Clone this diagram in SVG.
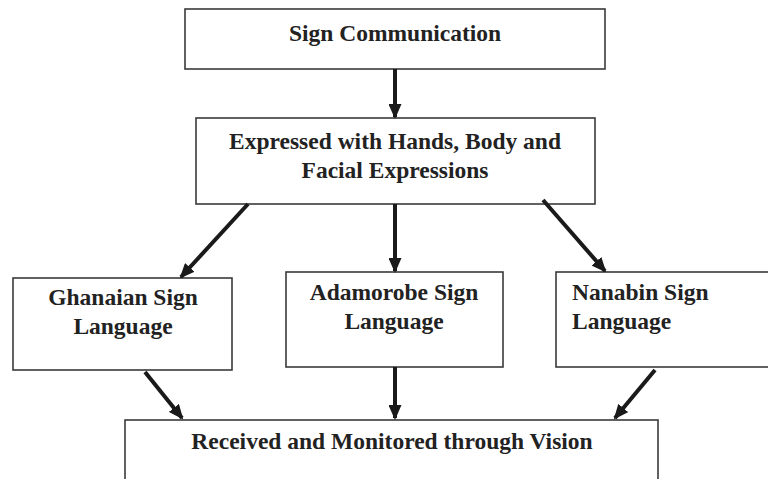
<svg xmlns="http://www.w3.org/2000/svg" width="768" height="479" viewBox="0 0 768 479">
<style>
.box{fill:#fff;stroke:#3a3a3a;stroke-width:1.6}
.t{font-family:"Liberation Serif","Times New Roman",serif;font-weight:bold;font-size:23.5px;fill:#222}
.c{text-anchor:middle}
.a{stroke:#1a1a1a;stroke-width:4;fill:none;marker-end:url(#ah)}
</style>
<defs>
<marker id="ah" viewBox="0 0 15 13" refX="13" refY="6.5" markerWidth="15" markerHeight="13" markerUnits="userSpaceOnUse" orient="auto">
<path d="M0,0 L15,6.5 L0,13 Z" fill="#1a1a1a"/>
</marker>
</defs>
<rect width="768" height="479" fill="#fff"/>
<g id="sign-communication">
<rect class="box" x="185" y="9" width="420" height="60"/>
<text class="t c" x="395" y="41">Sign Communication</text>
</g>
<g id="expressed">
<rect class="box" x="196" y="118" width="399" height="86"/>
<text class="t c" x="395" y="149">Expressed with Hands, Body and</text>
<text class="t c" x="395" y="178">Facial Expressions</text>
</g>
<g id="ghanaian">
<rect class="box" x="13" y="278" width="219" height="92"/>
<text class="t c" x="123" y="305">Ghanaian Sign</text>
<text class="t c" x="123" y="334">Language</text>
</g>
<g id="adamorobe">
<rect class="box" x="286" y="272" width="217" height="95"/>
<text class="t c" x="394" y="300">Adamorobe Sign</text>
<text class="t c" x="394" y="329">Language</text>
</g>
<g id="nanabin">
<rect class="box" x="556" y="272" width="220" height="95"/>
<text class="t" x="572" y="300">Nanabin Sign</text>
<text class="t" x="572" y="329">Language</text>
</g>
<g id="received">
<rect class="box" x="125" y="420" width="533" height="70"/>
<text class="t c" x="392" y="449">Received and Monitored through Vision</text>
</g>
<g id="connectors">
<line class="a" x1="248" y1="204" x2="181" y2="277"/>
<line class="a" x1="395" y1="69" x2="395" y2="117"/>
<line class="a" x1="395" y1="204" x2="395" y2="271"/>
<line class="a" x1="543" y1="200" x2="605" y2="271"/>
<line class="a" x1="145" y1="372" x2="182" y2="418"/>
<line class="a" x1="395" y1="367" x2="395" y2="418"/>
<line class="a" x1="655" y1="370" x2="615" y2="418"/>
</g>
</svg>
